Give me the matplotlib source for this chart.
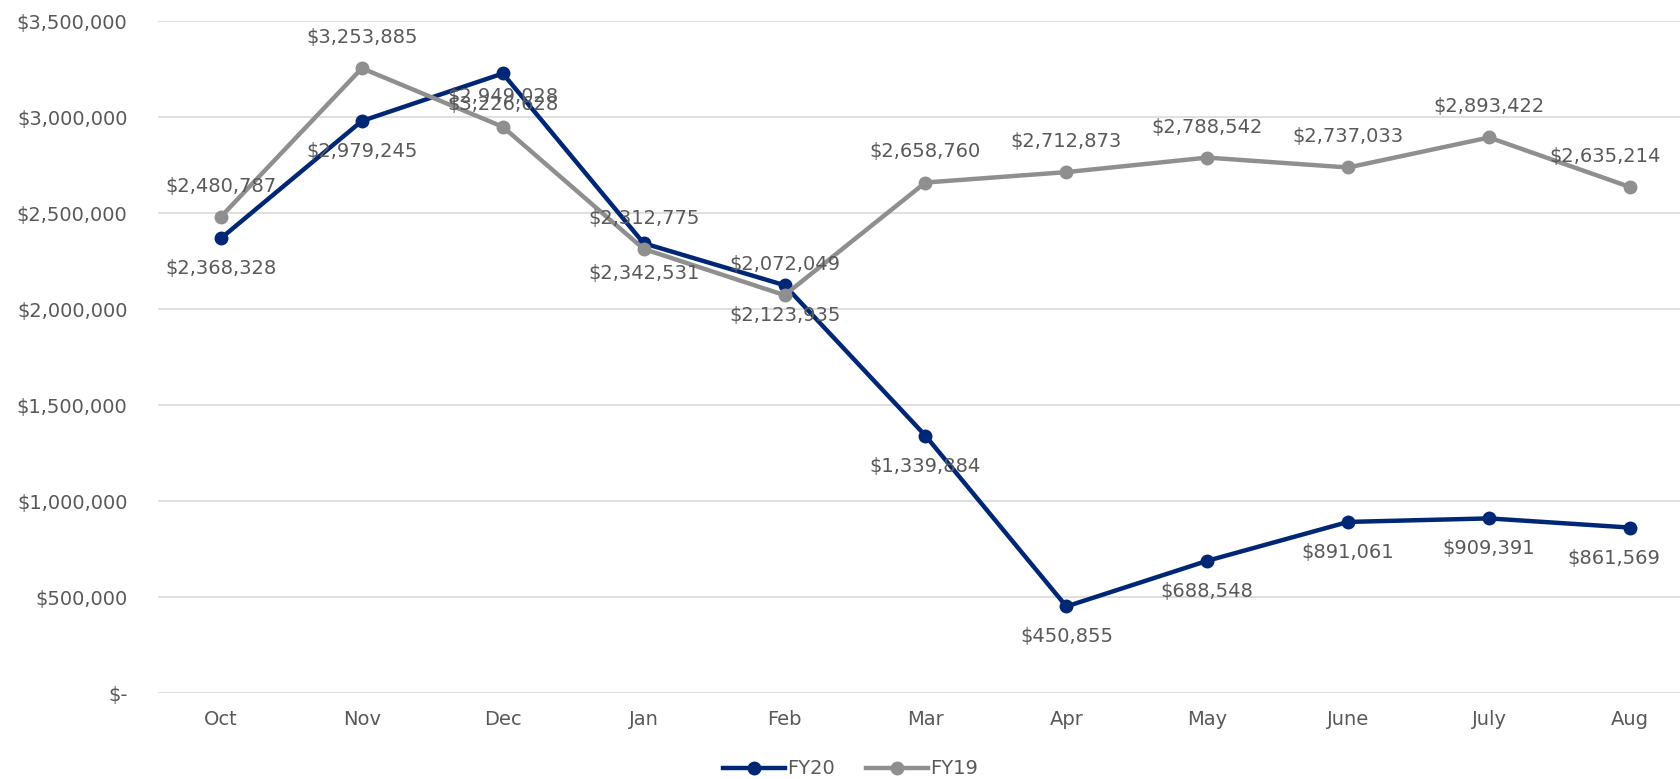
import matplotlib.pyplot as plt
from matplotlib.ticker import FuncFormatter

months = ['Oct', 'Nov', 'Dec', 'Jan', 'Feb', 'Mar', 'Apr', 'May', 'June', 'July', 'Aug']
fy20 = [2368328, 2979245, 3226628, 2342531, 2123935, 1339884, 450855, 688548, 891061, 909391, 861569]
fy19 = [2480787, 3253885, 2949028, 2312775, 2072049, 2658760, 2712873, 2788542, 2737033, 2893422, 2635214]

text_col = '#595959'
blue = '#002776'
grey = '#8F8F8F'

plt.rcParams['font.family'] = ['DejaVu Sans']

def money(v, pos=None):
    if v == 0:
        return '$-'
    return '${:,.0f}'.format(v)

def main():
    fig = plt.figure(figsize=(16.8, 7.79), dpi=100)
    ax = fig.add_axes([158 / 1680, 1 - 693 / 779, 1 - 158 / 1680, (693 - 21) / 779])
    x = list(range(len(months)))

    # FY20 first so FY19 sits on top
    ax.plot(x, fy20, color=blue, lw=3.2, marker='o', ms=9, label='FY20', zorder=3)
    ax.plot(x, fy19, color=grey, lw=3.2, marker='o', ms=9, label='FY19', zorder=4)

    # data labels: FY20 below, FY19 above (last one pushed inside the plot edge)
    for i in x:
        if i == len(months) - 1:
            ha, dx = 'right', 22
        else:
            ha, dx = 'center', 0
        ax.annotate(money(fy20[i]), (i, fy20[i]), xytext=(dx, -22), textcoords='offset points',
                    ha=ha, va='center', fontsize=14, color=text_col, zorder=5)
        ax.annotate(money(fy19[i]), (i, fy19[i]), xytext=(dx, 22), textcoords='offset points',
                    ha=ha, va='center', fontsize=14, color=text_col, zorder=5)

    ax.set_ylim(0, 3500000)
    ax.set_yticks(range(0, 3500001, 500000))
    ax.yaxis.set_major_formatter(FuncFormatter(money))
    ax.set_xlim(-0.447, 10.355)
    ax.set_xticks(x)
    ax.set_xticklabels(months)
    ax.tick_params(length=0, labelsize=14, labelcolor=text_col)
    ax.tick_params(axis='x', pad=12)
    ax.tick_params(axis='y', pad=22)
    ax.grid(axis='y', color='#D9D9D9', lw=1.2)
    ax.set_axisbelow(True)
    for s in ax.spines.values():
        s.set_visible(False)

    fig.legend(loc='center', bbox_to_anchor=(0.506, 0.013), ncol=2, frameon=False,
               fontsize=14, labelcolor=text_col, handlelength=3.2, handletextpad=0.1,
               columnspacing=1.6)

    fig.savefig('out.png')

if __name__ == '__main__':
    main()
